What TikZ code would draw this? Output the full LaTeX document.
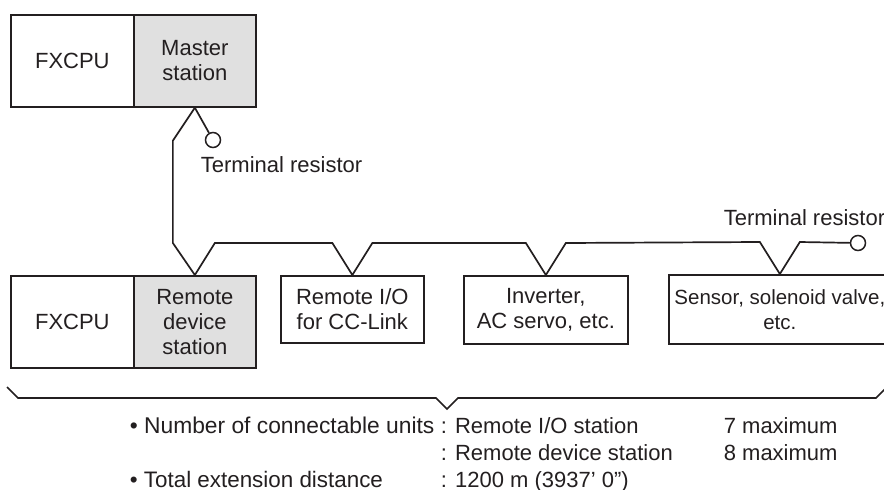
\documentclass[tikz,border=0pt]{standalone}
\usepackage{fontspec}
\setmainfont{Liberation Sans}
\definecolor{ink}{HTML}{231F20}
\definecolor{stationgray}{HTML}{E0E0E0}

\begin{document}
\begin{tikzpicture}[x=1pt, y=-1pt, line width=1.7pt, color=ink,
  font=\fontsize{22}{25}\selectfont,
  unit node/.style={draw, anchor=north west, align=center, inner sep=0pt},
  station node/.style={unit node, fill=stationgray},
  resistor node/.style={circle, draw, fill=white, minimum size=15pt, inner sep=0pt, line width=1.5pt},
  label node/.style={inner sep=0pt}]

  \useasboundingbox (0,0) rectangle (884,490);

  % master side
  \node[unit node, minimum width=123pt, minimum height=92pt] (cpu1) at (10,14) {FXCPU};
  \node[station node, minimum width=122pt, minimum height=92pt] (master) at (133,14) {Master\\station};
  \node[resistor node] (res1) at (213,140) {};
  \node[label node, anchor=base west] (tr1) at (200,172) {Terminal resistor};

  % remote side
  \node[unit node, minimum width=123pt, minimum height=92pt] (cpu2) at (10,275) {FXCPU};
  \node[station node, minimum width=122pt, minimum height=92pt] (remdev) at (133,275) {Remote\\device\\station};
  \node[unit node, minimum width=143pt, minimum height=67pt] (remio) at (280,275) {Remote I/O\\for CC-Link};
  \node[unit node, minimum width=164pt, minimum height=68pt] (inv) at (463,275) {Inverter,\\AC servo, etc.};
  \node[unit node, minimum width=222pt, minimum height=69pt, font=\fontsize{20.5}{25}\selectfont] (sensor) at (668,274) {Sensor, solenoid valve,\\etc.};
  \node[resistor node] (res2) at (858,243) {};
  \node[label node, anchor=base east] (tr2) at (886,225) {Terminal resistor};

  \draw (master.south) -- (res1);
  \draw (master.south) -- ++(-22,33) -- ([shift={(-22,-32)}]remdev.north) -- (remdev.north)
    -- ++(20,-32) -- ([shift={(-20,-32)}]remio.north) -- (remio.north)
    -- ++(20,-32) -- ([shift={(-20,-32)}]inv.north) -- (inv.north)
    -- ++(20,-32) -- ([shift={(-20,-32)}]sensor.north) -- (sensor.north)
    -- ++(20,-32) -- (res2);

  % brace
  \draw (7,387) -- (18,398) -- (436,398) -- (447,409) -- (458,398) -- (876,398) -- (886,388);

  % notes
  \node[label node, anchor=base west, font=\fontsize{22.8}{25}\selectfont] (n1) at (129,433) {\textbullet\ Number of connectable units};
  \node[label node, anchor=base west] (n1a) at (440,433) {: Remote I/O station};
  \node[label node, anchor=base west] (n1b) at (723,433) {7 maximum};
  \node[label node, anchor=base west] (n2a) at (440,460) {: Remote device station};
  \node[label node, anchor=base west] (n2b) at (723,460) {8 maximum};
  \node[label node, anchor=base west, font=\fontsize{22.4}{25}\selectfont] (n3) at (129,487) {\textbullet\ Total extension distance};
  \node[label node, anchor=base west] (n3a) at (440,487) {: 1200 m (3937' 0")};

\end{tikzpicture}
\end{document}
